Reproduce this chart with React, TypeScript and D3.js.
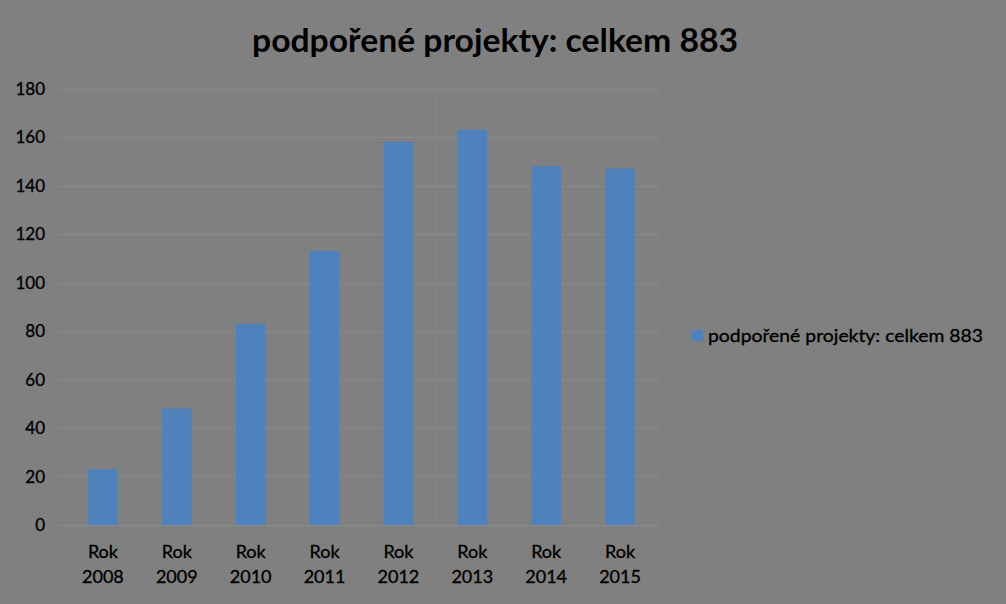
import { useEffect, useRef } from "react";
import * as d3 from "d3";

const title = "podpořené projekty: celkem 883";
const seriesName = "podpořené projekty: celkem 883";
const years = ["2008", "2009", "2010", "2011", "2012", "2013", "2014", "2015"];
const categoryPrefix = "Rok";
const values = [23, 48, 83, 113, 158, 163, 148, 147];
const yTicks = [0, 20, 40, 60, 80, 100, 120, 140, 160, 180];

const W = 1006;
const H = 604;
const BG = "#808080";
const BAR = "#4f81bd";
const GRID = "#8a8a8a";
const FONT = "Lato, 'Open Sans', sans-serif";

export default function App() {
  const svgRef = useRef<SVGSVGElement>(null);

  useEffect(() => {
    document.body.style.margin = "0";
    const el = svgRef.current;
    if (!el) return;
    const svg = d3.select(el);
    svg.selectAll("*").remove();

    const left = 66;
    const right = 657;
    const top = 88.5;
    const bottom = 525;

    const x = d3.scaleBand<string>().domain(years).range([left, right]).padding(0);
    const y = d3.scaleLinear().domain([0, 180]).range([bottom, top]);

    svg.append("rect").attr("width", W).attr("height", H).attr("fill", BG);

    // Title
    svg
      .append("text")
      .attr("x", 495)
      .attr("y", 52)
      .attr("text-anchor", "middle")
      .attr("font-family", FONT)
      .attr("font-weight", 700)
      .attr("font-size", 33)
      .attr("fill", "#000")
      .attr("textLength", 486)
      .attr("lengthAdjust", "spacingAndGlyphs")
      .text(title);

    // Vertical gridlines at category boundaries
    const bounds = years.map((c) => x(c) as number).concat([right]);
    svg
      .append("g")
      .selectAll("line")
      .data(bounds)
      .join("line")
      .attr("x1", (d) => d + 0.5)
      .attr("x2", (d) => d + 0.5)
      .attr("y1", top)
      .attr("y2", bottom + 5)
      .attr("stroke", "#858585")
      .attr("stroke-width", 1);

    // Horizontal gridlines
    svg
      .append("g")
      .selectAll("line")
      .data(yTicks)
      .join("line")
      .attr("x1", 58)
      .attr("x2", right)
      .attr("y1", (d) => Math.round(y(d)) + 0.5)
      .attr("y2", (d) => Math.round(y(d)) + 0.5)
      .attr("stroke", GRID)
      .attr("stroke-width", 1);

    // Y tick labels
    svg
      .append("g")
      .selectAll("text")
      .data(yTicks)
      .join("text")
      .attr("x", 45)
      .attr("y", (d) => y(d) + 6)
      .attr("text-anchor", "end")
      .attr("font-family", FONT)
      .attr("font-size", 17)
      .attr("fill", "#000")
      .attr("stroke", "#000")
      .attr("stroke-width", 0.35)
      .text((d) => String(d));

    // Bars
    const bw = x.bandwidth() * 0.4;
    svg
      .append("g")
      .selectAll("rect")
      .data(values)
      .join("rect")
      .attr("x", (_d, i) => (x(years[i]) as number) + x.bandwidth() / 2 - bw / 2)
      .attr("width", bw)
      .attr("y", (d) => y(d))
      .attr("height", (d) => y(0) - y(d))
      .attr("fill", BAR);

    // X labels
    const xl = svg
      .append("g")
      .selectAll("text")
      .data(years)
      .join("text")
      .attr("text-anchor", "middle")
      .attr("font-family", FONT)
      .attr("font-size", 18)
      .attr("fill", "#000")
      .attr("stroke", "#000")
      .attr("stroke-width", 0.35);
    xl.append("tspan")
      .attr("x", (d) => (x(d) as number) + x.bandwidth() / 2)
      .attr("y", 558)
      .text(categoryPrefix);
    xl.append("tspan")
      .attr("x", (d) => (x(d) as number) + x.bandwidth() / 2)
      .attr("y", 583)
      .text((d) => d);

    // Legend
    svg
      .append("rect")
      .attr("x", 692)
      .attr("y", 330)
      .attr("width", 11)
      .attr("height", 11)
      .attr("fill", BAR);
    svg
      .append("text")
      .attr("x", 708)
      .attr("y", 341.5)
      .attr("font-family", FONT)
      .attr("font-size", 18)
      .attr("fill", "#000")
      .attr("stroke", "#000")
      .attr("stroke-width", 0.35)
      .attr("textLength", 275)
      .attr("lengthAdjust", "spacingAndGlyphs")
      .text(seriesName);
  }, []);

  return <svg ref={svgRef} width={W} height={H} style={{ display: "block" }} />;
}
